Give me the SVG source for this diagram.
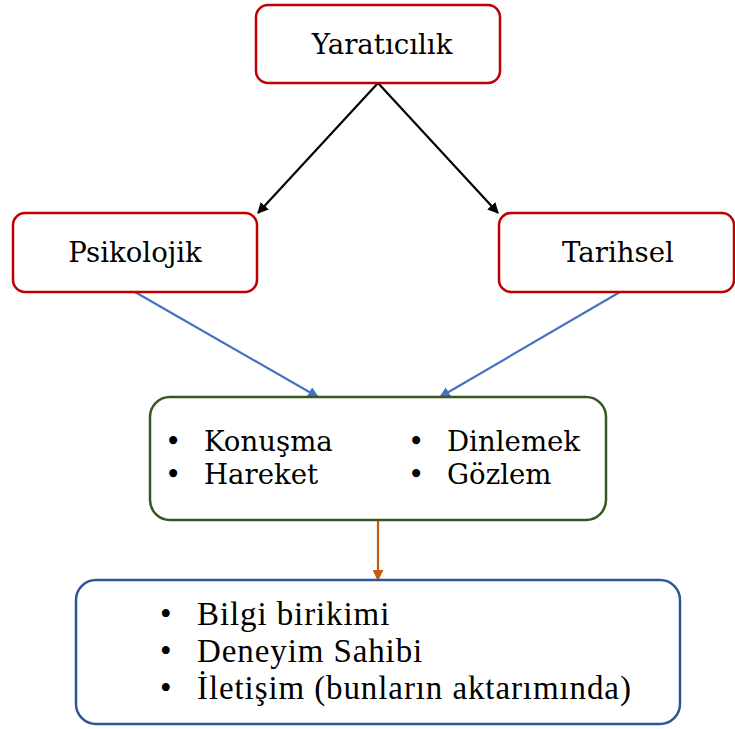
<svg xmlns="http://www.w3.org/2000/svg" width="735" height="729" viewBox="0 0 735 729">
<style>
.red{fill:#fff;stroke:#C00000;stroke-width:2.5}
.t{font-family:"DejaVu Serif","Liberation Serif",serif;font-size:27.6px;fill:#000}
.t2{font-family:"Liberation Serif","DejaVu Serif",serif;font-size:33px;letter-spacing:0.9px;fill:#000}
</style>
<defs>
<marker id="ab" viewBox="0 0 10 10" refX="9" refY="5" markerWidth="5" markerHeight="5" orient="auto"><path d="M0,0 L10,5 L0,10 z" fill="#000"/></marker>
<marker id="abl" viewBox="0 0 10 10" refX="9" refY="5" markerWidth="5" markerHeight="5" orient="auto"><path d="M0,0 L10,5 L0,10 z" fill="#4472C4"/></marker>
<marker id="ao" viewBox="0 0 10 10" refX="9" refY="5" markerWidth="5" markerHeight="5" orient="auto"><path d="M0,0 L10,5 L0,10 z" fill="#C55A11"/></marker>
</defs>
<rect width="735" height="729" fill="#fff"/>
<g id="connectors">
<line x1="378" y1="83" x2="258" y2="213" stroke="#000" stroke-width="2.2" marker-end="url(#ab)"/>
<line x1="378" y1="83" x2="498" y2="213" stroke="#000" stroke-width="2.2" marker-end="url(#ab)"/>
<line x1="135" y1="292" x2="318" y2="397" stroke="#4472C4" stroke-width="2.2" marker-end="url(#abl)"/>
<line x1="620" y1="292" x2="440" y2="397" stroke="#4472C4" stroke-width="2.2" marker-end="url(#abl)"/>
<line x1="378" y1="520" x2="378" y2="580" stroke="#C55A11" stroke-width="2.2" marker-end="url(#ao)"/>
</g>
<g id="yaraticilik">
<rect class="red" x="256" y="5" width="244" height="78" rx="12"/>
<text class="t" x="382" y="54" text-anchor="middle">Yaratıcılık</text>
</g>
<g id="psikolojik">
<rect class="red" x="13" y="213" width="244" height="79" rx="12"/>
<text class="t" x="135" y="262" text-anchor="middle">Psikolojik</text>
</g>
<g id="tarihsel">
<rect class="red" x="499" y="213" width="235" height="79" rx="12"/>
<text class="t" x="618" y="262" text-anchor="middle">Tarihsel</text>
</g>
<g id="orta">
<rect x="150" y="397" width="456" height="123" rx="20" fill="#fff" stroke="#385723" stroke-width="2.5"/>
<text class="t" x="165" y="451">•</text>
<text class="t" x="204" y="451">Konuşma</text>
<text class="t" x="165" y="484">•</text>
<text class="t" x="204" y="484">Hareket</text>
<text class="t" x="408" y="451">•</text>
<text class="t" x="447" y="451">Dinlemek</text>
<text class="t" x="408" y="484">•</text>
<text class="t" x="447" y="484">Gözlem</text>
</g>
<g id="alt">
<rect x="76" y="580" width="604" height="144" rx="20" fill="#fff" stroke="#2F5597" stroke-width="2.5"/>
<text class="t2" x="160" y="625">•</text>
<text class="t2" x="197" y="625">Bilgi birikimi</text>
<text class="t2" x="160" y="662">•</text>
<text class="t2" x="197" y="662">Deneyim Sahibi</text>
<text class="t2" x="160" y="699">•</text>
<text class="t2" x="197" y="699">İletişim (bunların aktarımında)</text>
</g>
</svg>
